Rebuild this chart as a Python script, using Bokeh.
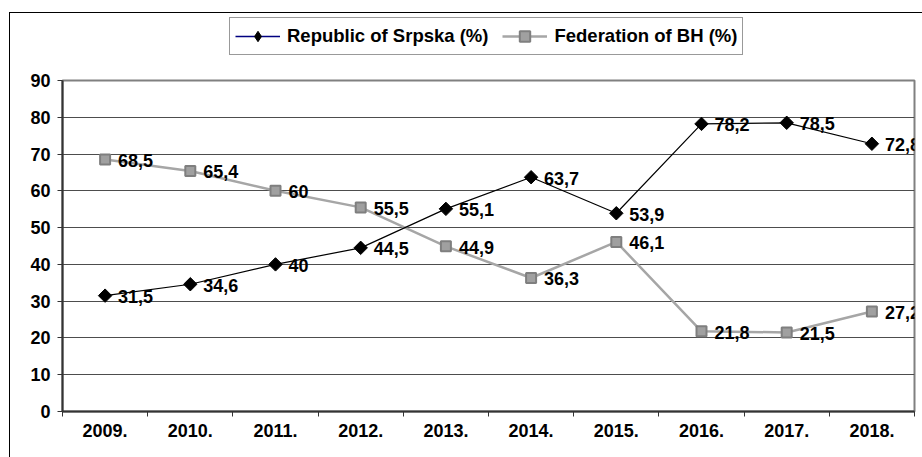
import math
from bokeh.plotting import figure
from bokeh.layouts import column
from bokeh.models import (Range1d, FixedTicker, Legend, LegendItem, ColumnDataSource, LabelSet)
from bokeh.core.properties import value
from bokeh.embed import file_html
from bokeh.resources import INLINE

years = ["2009.", "2010.", "2011.", "2012.", "2013.", "2014.", "2015.", "2016.", "2017.", "2018."]
srpska = [31.5, 34.6, 40, 44.5, 55.1, 63.7, 53.9, 78.2, 78.5, 72.8]
fbh = [68.5, 65.4, 60, 55.5, 44.9, 36.3, 46.1, 21.8, 21.5, 27.2]
srpska_labels = ["31,5", "34,6", "40", "44,5", "55,1", "63,7", "53,9", "78,2", "78,5", "72,8"]
fbh_labels = ["68,5", "65,4", "60", "55,5", "44,9", "36,3", "46,1", "21,8", "21,5", "27,2"]
y_ticks = [0, 10, 20, 30, 40, 50, 60, 70, 80, 90]
series_names = ["Republic of Srpska (%)", "Federation of BH (%)"]

n = len(years)
xc = [i + 0.5 for i in range(n)]
FONT = "Liberation Sans"
W = 912

# ---------- legend strip ----------
lg = figure(width=W, height=50, output_backend="svg", toolbar_location=None,
            x_range=Range1d(0, 1), y_range=Range1d(0, 1),
            x_axis_type=None, y_axis_type=None, min_border=0)
lg.outline_line_color = None
lg.xgrid.grid_line_color = None
lg.ygrid.grid_line_color = None
hidden_x, hidden_y = [0, 1], [-100, -100]   # outside the visible range: legend swatches only
l1 = lg.line(hidden_x, hidden_y, line_color="#000080", line_width=1.5)
m1 = lg.scatter(hidden_x, hidden_y, marker="diamond", size=14, fill_color="black", line_color="black", line_width=1)
l2 = lg.line(hidden_x, hidden_y, line_color="#a6a6a6", line_width=2.5)
m2 = lg.scatter(hidden_x, hidden_y, marker="square", size=9, fill_color="#a0a0a0", line_color="#7f7f7f", line_width=2)
legend = Legend(items=[LegendItem(label=series_names[0], renderers=[l1, m1]),
                       LegendItem(label=series_names[1], renderers=[l2, m2])],
                orientation="horizontal", location=(167, 8), margin=0,
                padding=5, spacing=14, glyph_width=45, glyph_height=26, label_height=26,
                label_standoff=7, label_text_font=FONT, label_text_font_style="bold",
                label_text_font_size="18.5px", label_text_color="black",
                border_line_color="#333333", border_line_width=1,
                background_fill_color="white", background_fill_alpha=1)
lg.add_layout(legend, "center")

# ---------- main chart ----------
p = figure(width=W, height=394, output_backend="svg", toolbar_location=None,
           x_range=Range1d(0, n), y_range=Range1d(0, 90),
           min_border_left=52, min_border_right=8, min_border_top=17, min_border_bottom=46)
p.background_fill_color = "white"
p.border_fill_color = "white"
p.outline_line_color = "#808080"
p.outline_line_width = 2

xa = p.xaxis[0]
xa.ticker = FixedTicker(ticks=xc, minor_ticks=list(range(n + 1)))
xa.major_label_overrides = {x: y for x, y in zip(xc, years)}
xa.major_tick_out = 0
xa.major_tick_in = 0
xa.minor_tick_out = 5
xa.minor_tick_in = 0
xa.minor_tick_line_color = "#333333"
xa.axis_line_color = "#333333"
xa.axis_line_width = 2
xa.major_label_text_font = FONT
xa.major_label_text_font_style = "bold"
xa.major_label_text_font_size = "18px"
xa.major_label_text_color = "black"
xa.major_label_standoff = 7

ya = p.yaxis[0]
ya.ticker = FixedTicker(ticks=y_ticks)
ya.major_tick_out = 5
ya.major_tick_in = 0
ya.minor_tick_line_color = None
ya.major_tick_line_color = "#333333"
ya.axis_line_color = "#333333"
ya.axis_line_width = 2
ya.major_label_text_font = FONT
ya.major_label_text_font_style = "bold"
ya.major_label_text_font_size = "18px"
ya.major_label_text_color = "black"
ya.major_label_standoff = 7

p.xgrid.grid_line_color = None
p.ygrid.grid_line_color = "#4d4d4d"
p.ygrid.grid_line_width = 1

p.line(xc, fbh, line_color="#a6a6a6", line_width=2.5)
p.scatter(xc, fbh, marker="square", size=10, fill_color="#a0a0a0", line_color="#7f7f7f", line_width=2)
p.line(xc, srpska, line_color="black", line_width=1.2)
p.scatter(xc, srpska, marker="square", angle=math.pi / 4, size=9.5, fill_color="black", line_color="black")

src_rs = ColumnDataSource(dict(x=xc, y=srpska, t=srpska_labels))
src_fb = ColumnDataSource(dict(x=xc, y=fbh, t=fbh_labels))
for src in (src_rs, src_fb):
    p.add_layout(LabelSet(x="x", y="y", text="t", source=src, x_offset=13, y_offset=-1,
                          text_align="left", text_baseline="middle",
                          text_font=value(FONT), text_font_style="bold", text_font_size="18px",
                          text_color="black"))

lay = column(lg, p, spacing=0,
             styles={"border-top": "1px solid black", "border-left": "1px solid black",
                     "margin": "12px 0px 0px 9px"})

open("out.html", "w").write(file_html(lay, INLINE))
